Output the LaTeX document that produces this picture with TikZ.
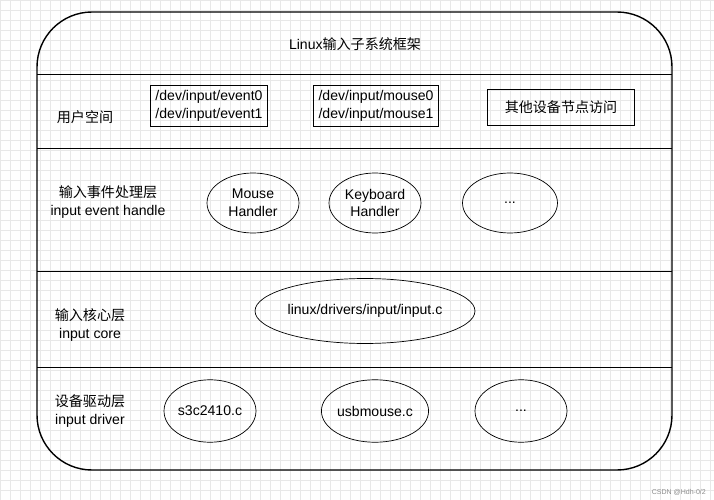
\documentclass[tikz,border=0pt]{standalone}
\usepackage{fontspec}
\setmainfont{Liberation Sans}
\newfontfamily\cjk{Noto Sans CJK SC}
\usetikzlibrary{shapes.geometric}

\tikzset{
  pathbox/.style={draw, align=left, inner sep=3pt, font=\fontsize{8}{10}\selectfont},
  oval/.style={draw, ellipse, inner sep=0pt, align=center, font=\fontsize{8}{10}\selectfont},
  layertxt/.style={align=center, font=\fontsize{8}{10}\selectfont}
}

\begin{document}
\begin{tikzpicture}[x=0.02cm,y=-0.02cm]
\useasboundingbox (0,0) rectangle (714,500);
\fill[white] (0,0) rectangle (714,500);
\draw[black!9, step=0.2cm] (0,-10) grid (714,500);
% frame
\draw[thick, rounded corners=1.1cm] (37,12) rectangle (672,470);
\foreach \y in {74,148,271,367}
  \draw (37,\y) -- (672,\y);
\node[layertxt] (title) at (355,44) {Linux{\cjk 输入子系统框架}};
% user space
\node[layertxt] (user) at (85,117) {{\cjk 用户空间}};
\node[pathbox] (ev) at (209,106) {/dev/input/event0\\/dev/input/event1};
\node[pathbox] (ms) at (376,106) {/dev/input/mouse0\\/dev/input/mouse1};
\node[pathbox, minimum width=2.94cm, minimum height=0.72cm, align=center] (other) at (561,107) {{\cjk 其他设备节点访问}};
% event handler
\node[layertxt] (handle) at (108,202) {{\cjk 输入事件处理层}\\input event handle};
\node[oval, minimum width=1.84cm, minimum height=1.2cm] (mouse) at (253,203) {Mouse\\Handler};
\node[oval, minimum width=1.84cm, minimum height=1.2cm] (kbd) at (375,203) {Keyboard\\Handler};
\node[oval, minimum width=1.9cm, minimum height=1.2cm] (hmore) at (510,203) {...};
% core
\node[layertxt] (core) at (90,325) {{\cjk 输入核心层}\\input core};
\node[oval, minimum width=4.4cm, minimum height=1.3cm] (input) at (365,311) {linux/drivers/input/input.c};
% driver
\node[layertxt] (driver) at (90,411) {{\cjk 设备驱动层}\\input driver};
\node[oval, minimum width=1.84cm, minimum height=1.25cm] (s3c) at (210,411) {s3c2410.c};
\node[oval, minimum width=1.84cm, minimum height=1.25cm] (usb) at (375,411) {usbmouse.c};
\node[oval, minimum width=1.84cm, minimum height=1.25cm] (dmore) at (521,411) {...};
\node[text=black!45, font=\fontsize{4}{5}\selectfont, anchor=east] (mark) at (712,492) {CSDN @Hdh-0/2};
\end{tikzpicture}
\end{document}
